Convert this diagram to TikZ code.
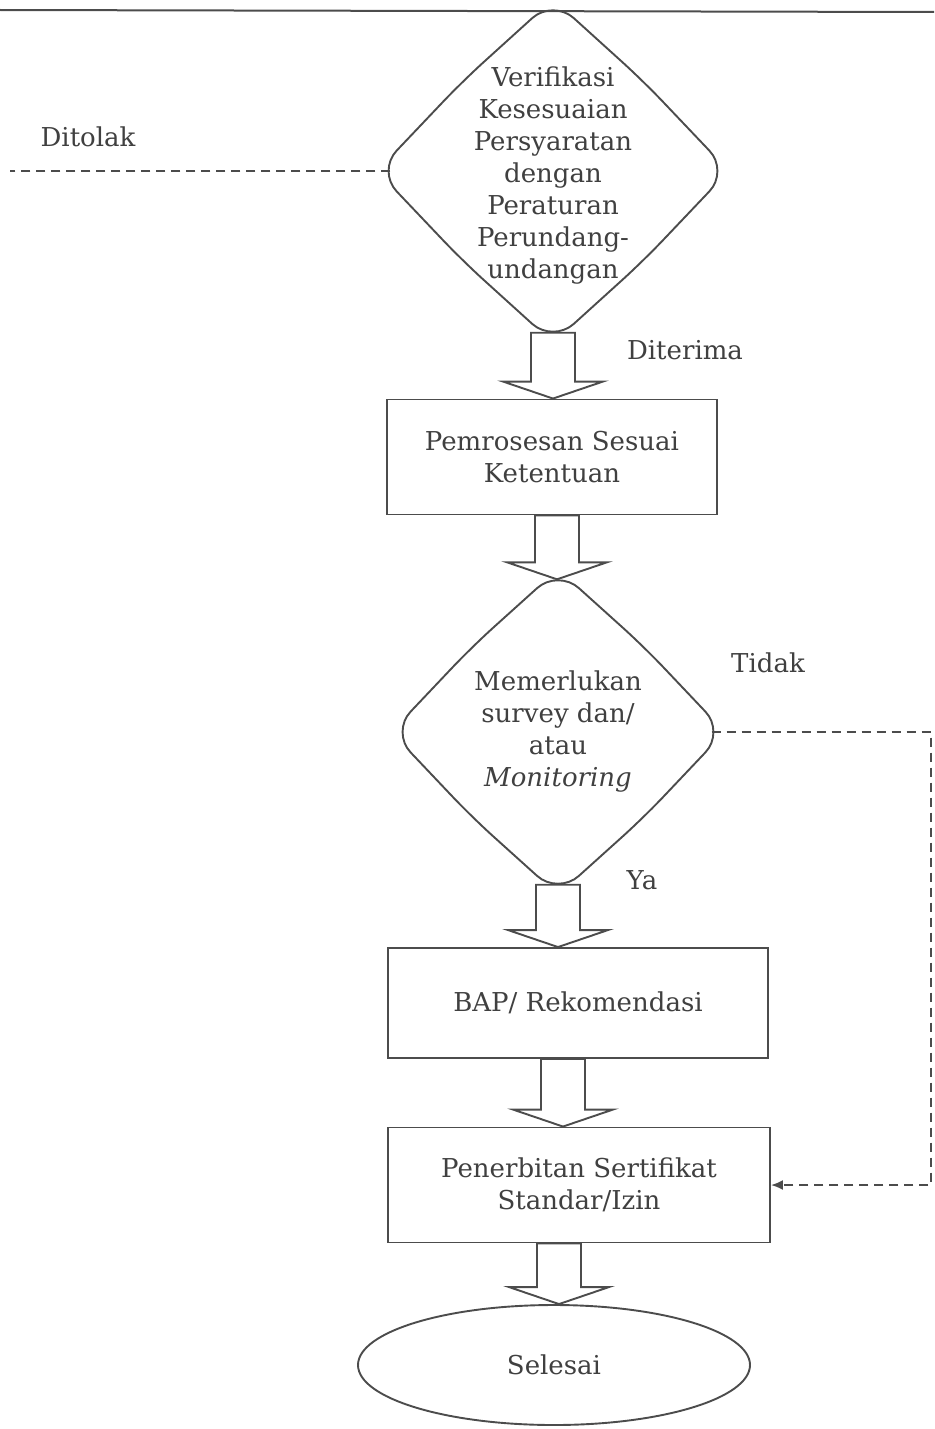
\documentclass[tikz,border=0pt]{standalone}
\usepackage{fontspec}
\setmainfont{DejaVu Serif}
\usetikzlibrary{shapes.geometric,arrows.meta,calc}
\tikzstyle{decide}=[diamond, draw=none, inner sep=0pt]
\tikzstyle{garis}=[draw=black!70, line width=1.9pt]
\tikzstyle{prosesbox}=[rectangle, garis, align=center]
\tikzstyle{lbl}=[text=black!75]
\tikzstyle{panah}=[garis, fill=white]
\tikzstyle{putus}=[draw=black!70, line width=1.9pt, dash pattern=on 9pt off 6pt]
% fat block arrow from #2 down to #3, shifted sideways by #1
\newcommand{\blokpanah}[3][0]{%
  \draw[panah] ($(#2.south)+(#1-22,0)$) -- ($(#2.south|-#3.north)+(#1-22,-17)$)
    -- ($(#2.south|-#3.north)+(#1-50,-17)$) -- ($(#2.south|-#3.north)+(#1,0)$)
    -- ($(#2.south|-#3.north)+(#1+50,-17)$) -- ($(#2.south|-#3.north)+(#1+22,-17)$)
    -- ($(#2.south)+(#1+22,0)$) -- cycle;}
% rounded diamond outline with slightly bulging sides
\newcommand{\ketupat}[1]{%
  \draw[garis, rounded corners=28pt] ([yshift=10pt]#1.north) -- ([shift={(-9pt,9pt)}]#1.north west)
    -- ([xshift=-13pt]#1.west) -- ([shift={(-9pt,-9pt)}]#1.south west)
    -- ([yshift=-10pt]#1.south) -- ([shift={(9pt,-9pt)}]#1.south east)
    -- ([xshift=13pt]#1.east) -- ([shift={(9pt,9pt)}]#1.north east) -- cycle;}

\begin{document}
\begin{tikzpicture}[x=1pt, y=-1pt, every node/.style={font=\fontsize{26}{32}\selectfont, text=black!75}]
    \useasboundingbox (0,0) rectangle (934,1429);
    \draw[black!70, line width=2pt] (0,10) -- (934,12);
    % nodes
    \node[decide, minimum width=325pt, minimum height=323pt,
        label={[lbl, align=center, yshift=-5pt]center:Verifikasi\\Kesesuaian\\Persyaratan\\dengan\\Peraturan\\Perundang-\\undangan}]
        (verif) at (553,171) {};
    \node[prosesbox, minimum width=330pt, minimum height=115pt] (proses) at (552,457) {Pemrosesan Sesuai\\Ketentuan};
    \node[decide, minimum width=307pt, minimum height=305pt,
        label={[lbl, align=center]center:Memerlukan\\survey dan/\\atau\\\textit{Monitoring}}]
        (survey) at (558,732) {};
    \node[prosesbox, minimum width=380pt, minimum height=110pt] (bap) at (578,1003) {BAP/ Rekomendasi};
    \node[prosesbox, minimum width=382pt, minimum height=115pt] (terbit) at (579,1185) {Penerbitan Sertifikat\\Standar/Izin};
    \node[ellipse, garis, minimum width=392pt, minimum height=120pt] (selesai) at (554,1365) {Selesai};
    \ketupat{verif}
    \ketupat{survey}
    \coordinate (tolak) at (10,171);
    \coordinate (kanan) at (931,0);
    % labels
    \node[lbl] (ditolak) at (88,137) {Ditolak};
    \node[lbl] (diterima) at (685,350) {Diterima};
    \node[lbl] (tidak) at (768,663) {Tidak};
    \node[lbl] (ya) at (642,880) {Ya};
    % arrows
    \blokpanah{verif}{proses}
    \blokpanah[5]{proses}{survey}
    \blokpanah{survey}{bap}
    \blokpanah[-15]{bap}{terbit}
    \blokpanah[-20]{terbit}{selesai}
    \draw[putus] (verif.west) -- (tolak);
    \draw[putus, -{Latex[length=12pt, width=10pt]}] (survey.east) -- (survey.east -| kanan) |- (terbit.east);
\end{tikzpicture}
\end{document}
